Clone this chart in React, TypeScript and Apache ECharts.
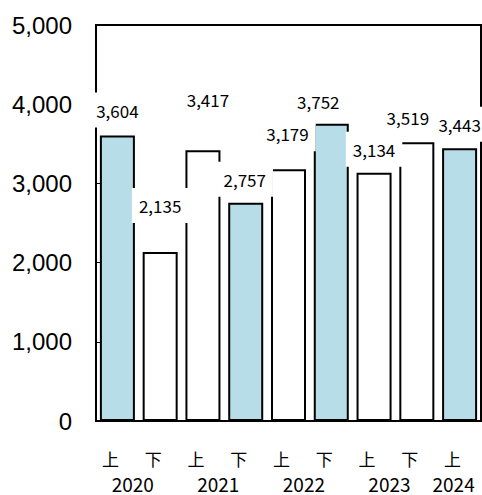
import React, { useEffect, useRef } from "react";
import * as echarts from "echarts";

const categories = ["2020上", "2020下", "2021上", "2021下", "2022上", "2022下", "2023上", "2023下", "2024上"];
const halfLabels = ["上", "下", "上", "下", "上", "下", "上", "下", "上"];
const values = [3604, 2135, 3417, 2757, 3179, 3752, 3134, 3519, 3443];
const highlighted = [true, false, false, true, false, true, false, false, true];
const yearPositions: Record<string, string> = { "1": "2020", "3": "2021", "5": "2022", "7": "2023", "8.5": "2024" };
const yTicks = [0, 1000, 2000, 3000, 4000, 5000];

// label placement tweaks (px) to mimic the staggered labels in the reference
const labelDistance = [8, 29, 33.5, 6, 18, 5, 6, 7.5, 6.5];
const labelDx = [0, 0, 5, -1, -1, -13, 0, -9, 0];

const BLUE = "#B7DEE8";

export default function App() {
  const ref = useRef<HTMLDivElement>(null);
  useEffect(() => {
    if (!ref.current) return;
    const chart = echarts.init(ref.current, undefined, { renderer: "svg" });
    chart.setOption({
      animation: false,
      backgroundColor: "#fff",
      grid: {
        left: 96,
        right: 1,
        top: 25,
        bottom: 74,
        show: true,
        borderColor: "#000",
        borderWidth: 2,
        backgroundColor: "transparent",
        containLabel: false,
        outerBoundsMode: "none",
      },
      xAxis: [
        {
          type: "category",
          data: categories,
          axisLine: { show: true, lineStyle: { color: "#000", width: 2 } },
          axisTick: { show: false },
          axisLabel: {
            formatter: (_v: string, i: number) => halfLabels[i],
            fontFamily: "Noto Sans CJK JP",
            fontSize: 17,
            lineHeight: 17,
            color: "#000",
            margin: 29,
            padding: [0, 14, 0, 0],
          },
        },
        {
          type: "value",
          position: "bottom",
          min: 0,
          max: 9,
          interval: 0.5,
          axisLine: { show: false },
          axisTick: { show: false },
          splitLine: { show: false },
          axisLabel: {
            formatter: (v: number) => yearPositions[String(v)] || "",
            fontFamily: "Noto Sans CJK JP",
            fontSize: 19,
            lineHeight: 16,
            color: "#000",
            margin: 54,
            padding: [0, 12, 0, 0],
            showMinLabel: false,
            showMaxLabel: false,
          },
        },
      ],
      yAxis: {
        type: "value",
        min: yTicks[0],
        max: yTicks[yTicks.length - 1],
        interval: 1000,
        axisLine: { show: true, lineStyle: { color: "#000", width: 2 } },
        axisTick: { show: true, inside: true, length: 6, lineStyle: { color: "#000", width: 1 } },
        splitLine: { show: false },
        axisLabel: {
          formatter: (v: number) => v.toLocaleString("en-US"),
          fontFamily: "Liberation Sans",
          fontSize: 24,
          color: "#000",
          margin: 24,
        },
      },
      series: [
        {
          type: "bar",
          xAxisIndex: 0,
          barWidth: 35,
          data: values.map((v, i) => ({
            value: v,
            itemStyle: {
              color: highlighted[i] ? BLUE : "#fff",
              borderColor: "#000",
              borderWidth: 2,
            },
            label: {
              show: true,
              position: "top",
              distance: labelDistance[i],
              offset: [labelDx[i], 0],
              formatter: (p: any) => Number(p.value).toLocaleString("en-US"),
              fontFamily: "Noto Sans CJK JP",
              fontSize: 17,
              lineHeight: 17,
              color: "#000",
              backgroundColor: "#fff",
              padding: [9, 7],
            },
          })),
        },
      ],
    });
    return () => chart.dispose();
  }, []);
  return (
    <div
      ref={ref}
      style={{ position: "fixed", left: 0, top: 0, width: 482, height: 495, background: "#fff" }}
    />
  );
}
